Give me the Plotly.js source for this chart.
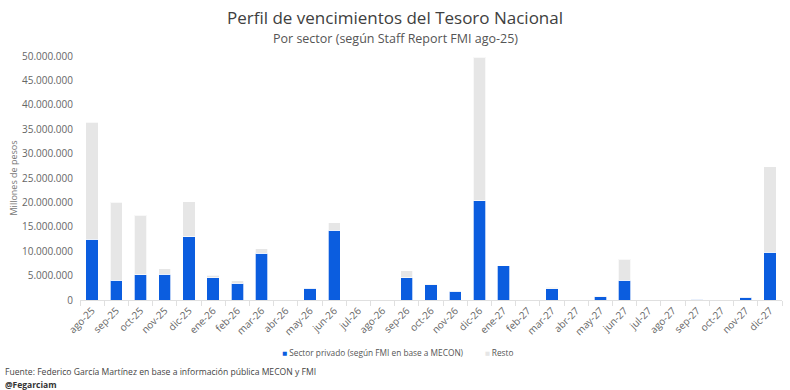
<!DOCTYPE html>
<html>
<head>
<meta charset="utf-8">
<script src="https://cdn.plot.ly/plotly-3.0.1.min.js"></script>
<style>html,body{margin:0;padding:0;background:#fff;}#chart{width:790px;height:390px;}</style>
</head>
<body>
<div id="chart"></div>
<script>
const months = ["ago-25","sep-25","oct-25","nov-25","dic-25","ene-26","feb-26","mar-26","abr-26","may-26","jun-26","jul-26","ago-26","sep-26","oct-26","nov-26","dic-26","ene-27","feb-27","mar-27","abr-27","may-27","jun-27","jul-27","ago-27","sep-27","oct-27","nov-27","dic-27"];
// Millones de pesos
const sectorPrivado = [12500000,4000000,5200000,5300000,13000000,4600000,3400000,9600000,0,2400000,14300000,0,0,4600000,3100000,1800000,20300000,7000000,0,2300000,0,700000,4000000,0,0,200000,0,600000,9800000];
const resto = [23900000,16000000,12200000,1100000,7100000,500000,500000,900000,100000,100000,1500000,60000,60000,1400000,100000,100000,29400000,60000,60000,300000,60000,100000,4400000,60000,60000,60000,60000,100000,17500000];
const seriesNames = ["Sector privado (según FMI en base a MECON)", "Resto"];
const seriesColors = ["#0b5ddf", "#e6e6e6"];

const FONT = "Open Sans, Liberation Sans, sans-serif";
const traces = [
  {type:"bar", name:seriesNames[0], x:months, y:sectorPrivado,
   marker:{color:seriesColors[0], line:{color:"rgba(255,255,255,0.7)", width:1}}},
  {type:"bar", name:seriesNames[1], x:months, y:resto,
   marker:{color:seriesColors[1], line:{color:"rgba(255,255,255,0.7)", width:1}}}
];
const legendText = seriesNames.map((n,i)=>"<span style='color:"+seriesColors[i]+"'>■</span> "+n).join("          ");
const layout = {
  width:790, height:390, barmode:"stack", bargap:0.49,
  separators:",.",
  paper_bgcolor:"#fff", plot_bgcolor:"#fff",
  margin:{l:80, r:8, t:56, b:90},
  font:{family:FONT, color:"#666"},
  title:{text:"Perfil de vencimientos del Tesoro Nacional",
         x:0.5, xref:"container", xanchor:"center", y:1-18/390, yref:"container", yanchor:"middle",
         font:{family:FONT, size:17, color:"#404040"}},
  xaxis:{type:"category", tickangle:-45, tickfont:{size:10, color:"#666"},
         showline:true, linecolor:"#e0e0e0", linewidth:1, ticks:"outside", tickson:"boundaries",
         ticklen:5, tickcolor:"#e0e0e0", showgrid:false, fixedrange:true},
  yaxis:{range:[0,50000000], dtick:5000000, tickformat:",d", showgrid:false, zeroline:false,
         showline:false, tickfont:{size:10, color:"#666"}, ticks:"", ticklabelstandoff:6,
         title:{text:"Millones de pesos", font:{size:9, color:"#777"}, standoff:2}},
  showlegend:false,
  annotations:[
    {text:"Por sector (según Staff Report FMI ago-25)", xref:"paper", yref:"paper",
     x:(395-80)/702, y:(300-38)/244, xanchor:"center", yanchor:"middle", showarrow:false, font:{size:12.5, color:"#555"}},
    {text:legendText, xref:"paper", yref:"paper",
     x:(397-80)/702, y:(300-352)/244, xanchor:"center", yanchor:"middle", showarrow:false, font:{size:8.3, color:"#555"}},
    {text:"Fuente: Federico García Martínez en base a información pública MECON y FMI", xref:"paper", yref:"paper",
     x:-0.110, y:-0.296, xanchor:"left", yanchor:"middle", showarrow:false, font:{size:8.6, color:"#444"}},
    {text:"<b>@Fegarciam</b>", xref:"paper", yref:"paper",
     x:-0.110, y:-0.348, xanchor:"left", yanchor:"middle", showarrow:false, font:{size:8.5, color:"#333"}}
  ]
};
Plotly.newPlot("chart", traces, layout, {displayModeBar:false, staticPlot:true});
</script>
</body>
</html>
